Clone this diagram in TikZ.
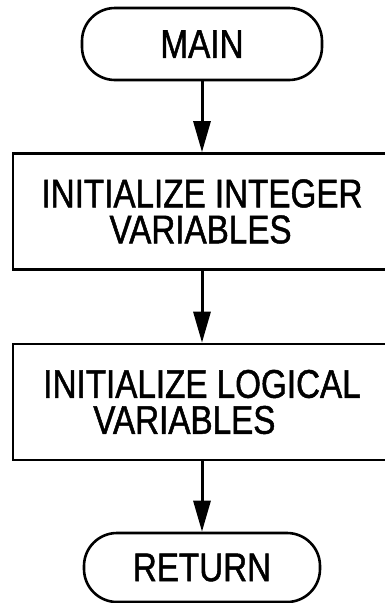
\documentclass[tikz,border=0pt]{standalone}
\usepackage{fontspec}
\setmainfont{Liberation Sans}[FakeStretch=0.83,FakeBold=1.2]
\usetikzlibrary{arrows.meta}
\begin{document}
\begin{tikzpicture}[x=1pt,y=-1pt,
  every node/.style={font=\fontsize{40}{36}\selectfont, inner sep=0pt},
  term/.style={draw, line width=2.6pt, rounded corners=33pt, minimum width=240pt, minimum height=72pt},
  procbox/.style={draw, line width=2.6pt, minimum width=378pt, minimum height=116pt, align=left},
  flow/.style={line width=3pt, -{Triangle[length=31pt,width=17pt]}}]
\clip (0,0) rectangle (385,603);
\node[term] (main) at (202,44) {MAIN};
\node[procbox] (b1) at (202,211.5) {INITIALIZE INTEGER\\\hspace*{68pt}VARIABLES};
\node[procbox] (b2) at (202,402) {INITIALIZE LOGICAL\\\hspace*{50pt}VARIABLES};
\node[term, minimum height=69pt, minimum width=236pt] (ret) at (202,567.5) {RETURN};
\draw[flow] (main) -- (b1);
\draw[flow] (b1) -- (b2);
\draw[flow] (b2) -- (ret);
\end{tikzpicture}
\end{document}
